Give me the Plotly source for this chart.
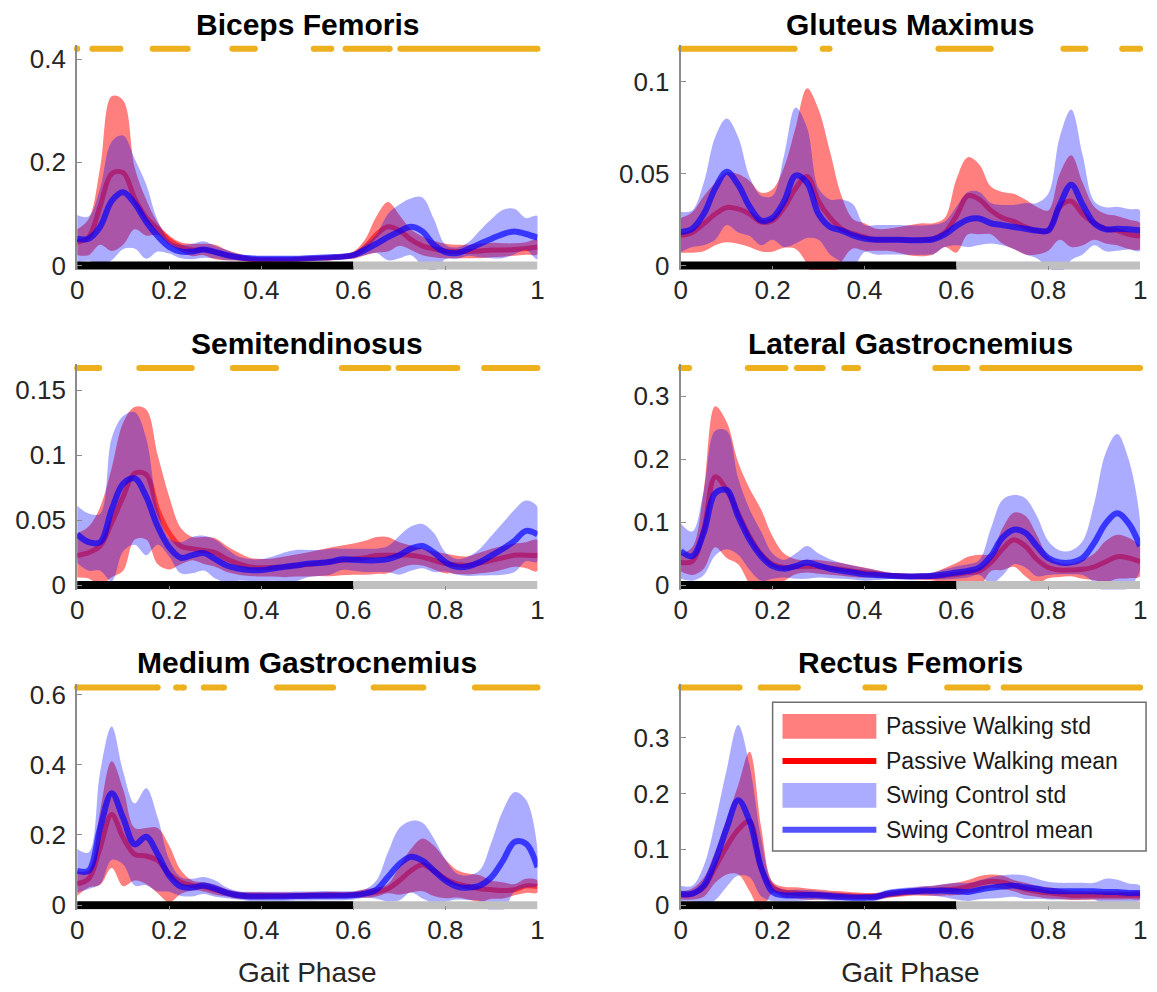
import plotly.graph_objects as go

# Gait-cycle sample points (fraction of stride, 0.025 step)
phase = [i / 40 for i in range(41)]

# ---------------- Biceps Femoris ----------------
bf_pw_mean = [0.045, 0.055, 0.115, 0.178, 0.18, 0.13, 0.093, 0.071, 0.049, 0.036,
              0.03, 0.031, 0.026, 0.02, 0.016, 0.012, 0.011, 0.011, 0.011, 0.012,
              0.013, 0.014, 0.015, 0.017, 0.02, 0.035, 0.06, 0.075, 0.068, 0.05,
              0.038, 0.032, 0.028, 0.027, 0.027, 0.028, 0.03, 0.03, 0.031, 0.033, 0.036]
bf_pw_std = [0.025, 0.035, 0.075, 0.15, 0.14, 0.06, 0.035, 0.012, 0.009, 0.009,
             0.012, 0.011, 0.014, 0.01, 0.007, 0.005, 0.004, 0.004, 0.004, 0.004,
             0.004, 0.004, 0.005, 0.005, 0.007, 0.015, 0.035, 0.048, 0.03, 0.02,
             0.018, 0.016, 0.014, 0.013, 0.013, 0.014, 0.014, 0.013, 0.012, 0.012, 0.014]
bf_sc_mean = [0.052, 0.052, 0.075, 0.125, 0.142, 0.12, 0.085, 0.057, 0.036, 0.027,
              0.027, 0.031, 0.026, 0.02, 0.016, 0.014, 0.013, 0.013, 0.013, 0.013,
              0.014, 0.015, 0.016, 0.017, 0.02, 0.03, 0.042, 0.055, 0.066, 0.075,
              0.066, 0.04, 0.026, 0.024, 0.032, 0.042, 0.052, 0.061, 0.066, 0.061, 0.054]
bf_sc_std = [0.046, 0.043, 0.075, 0.115, 0.11, 0.087, 0.072, 0.03, 0.013, 0.013,
             0.015, 0.016, 0.012, 0.01, 0.006, 0.005, 0.004, 0.004, 0.004, 0.004,
             0.004, 0.004, 0.004, 0.004, 0.005, 0.01, 0.018, 0.045, 0.052, 0.055,
             0.066, 0.05, 0.014, 0.011, 0.013, 0.026, 0.038, 0.047, 0.044, 0.031, 0.042]
bf_sig = [(0.0, 0.0), (0.033, 0.094), (0.164, 0.24), (0.337, 0.386),
          (0.514, 0.552), (0.583, 0.679), (0.702, 1.0)]
bf_level = 0.42
bf_yticks = [0, 0.2, 0.4]

# ---------------- Gluteus Maximus ----------------
gm_pw_mean = [0.0164, 0.018, 0.0227, 0.028, 0.0316, 0.0308, 0.028, 0.0236, 0.0245, 0.0316,
              0.042, 0.0485, 0.035, 0.026, 0.02, 0.0173, 0.0155, 0.014, 0.014, 0.014,
              0.0137, 0.014, 0.0145, 0.018, 0.027, 0.038, 0.036, 0.03, 0.026, 0.024,
              0.021, 0.019, 0.019, 0.032, 0.035, 0.028, 0.023, 0.02, 0.019, 0.017, 0.016]
gm_pw_std = [0.0095, 0.011, 0.015, 0.017, 0.019, 0.019, 0.018, 0.016, 0.017, 0.022,
             0.033, 0.048, 0.05, 0.036, 0.018, 0.008, 0.0075, 0.006, 0.006, 0.007,
             0.0083, 0.009, 0.0085, 0.008, 0.02, 0.021, 0.019, 0.013, 0.014, 0.015,
             0.015, 0.013, 0.011, 0.018, 0.025, 0.017, 0.009, 0.008, 0.008, 0.008, 0.007]
gm_sc_mean = [0.0182, 0.02, 0.028, 0.042, 0.051, 0.044, 0.032, 0.0245, 0.026, 0.035,
              0.049, 0.045, 0.028, 0.021, 0.019, 0.0164, 0.0146, 0.014, 0.014, 0.014,
              0.0138, 0.0138, 0.0143, 0.017, 0.0215, 0.025, 0.0256, 0.023, 0.022, 0.021,
              0.02, 0.019, 0.019, 0.033, 0.044, 0.033, 0.023, 0.0197, 0.02, 0.0197, 0.019]
gm_sc_std = [0.011, 0.01, 0.017, 0.028, 0.029, 0.026, 0.016, 0.0135, 0.012, 0.025,
             0.037, 0.03, 0.014, 0.015, 0.017, 0.017, 0.0074, 0.008, 0.008, 0.008,
             0.008, 0.008, 0.008, 0.007, 0.0105, 0.015, 0.0144, 0.011, 0.011, 0.012,
             0.014, 0.015, 0.02, 0.037, 0.041, 0.027, 0.012, 0.012, 0.012, 0.011, 0.011]
gm_sig = [(0.0, 0.248), (0.309, 0.324), (0.561, 0.675), (0.833, 0.881), (0.961, 1.0)]
gm_level = 0.118
gm_yticks = [0, 0.05, 0.1]

# ---------------- Semitendinosus ----------------
st_pw_mean = [0.0228, 0.025, 0.03, 0.048, 0.068, 0.086, 0.085, 0.058, 0.04, 0.03,
              0.028, 0.0266, 0.025, 0.02, 0.0165, 0.014, 0.0133, 0.0135, 0.014, 0.015,
              0.0158, 0.017, 0.0178, 0.019, 0.02, 0.021, 0.0228, 0.023, 0.023, 0.023,
              0.0215, 0.019, 0.0165, 0.0155, 0.0152, 0.017, 0.019, 0.021, 0.023, 0.023, 0.0228]
st_pw_std = [0.017, 0.02, 0.03, 0.042, 0.057, 0.051, 0.05, 0.042, 0.028, 0.014,
             0.009, 0.0104, 0.011, 0.01, 0.0085, 0.007, 0.0067, 0.007, 0.008, 0.0085,
             0.0092, 0.01, 0.011, 0.0115, 0.012, 0.013, 0.0142, 0.014, 0.01, 0.0075,
             0.0065, 0.007, 0.0075, 0.007, 0.007, 0.008, 0.009, 0.009, 0.009, 0.01, 0.012]
st_sc_mean = [0.039, 0.033, 0.033, 0.058, 0.078, 0.082, 0.068, 0.045, 0.029, 0.021,
              0.023, 0.0246, 0.02, 0.015, 0.0127, 0.0115, 0.0115, 0.0127, 0.014, 0.015,
              0.0165, 0.017, 0.018, 0.0198, 0.0195, 0.019, 0.019, 0.02, 0.023, 0.028,
              0.03, 0.025, 0.0177, 0.014, 0.0145, 0.0177, 0.0228, 0.028, 0.034, 0.0417, 0.039]
st_sc_std = [0.022, 0.022, 0.022, 0.055, 0.052, 0.051, 0.045, 0.014, 0.007, 0.012,
             0.014, 0.0134, 0.015, 0.013, 0.0093, 0.0085, 0.0085, 0.0093, 0.011, 0.012,
             0.0105, 0.01, 0.01, 0.0082, 0.0085, 0.009, 0.009, 0.01, 0.015, 0.017,
             0.017, 0.015, 0.0073, 0.006, 0.0075, 0.0103, 0.0152, 0.02, 0.024, 0.0233, 0.021]
st_sig = [(0.0, 0.048), (0.135, 0.249), (0.338, 0.432), (0.575, 0.676),
          (0.698, 0.826), (0.884, 1.0)]
st_level = 0.167
st_yticks = [0, 0.05, 0.1, 0.15]

# ---------------- Lateral Gastrocnemius ----------------
lg_pw_mean = [0.036, 0.038, 0.088, 0.172, 0.151, 0.114, 0.077, 0.049, 0.033, 0.028,
              0.029, 0.03, 0.029, 0.027, 0.025, 0.022, 0.02, 0.018, 0.0157, 0.0145,
              0.0136, 0.0136, 0.0136, 0.015, 0.017, 0.02, 0.0225, 0.036, 0.057, 0.072,
              0.062, 0.041, 0.028, 0.024, 0.024, 0.025, 0.029, 0.037, 0.045, 0.043, 0.037]
lg_pw_std = [0.014, 0.022, 0.062, 0.112, 0.108, 0.081, 0.076, 0.071, 0.044, 0.022,
             0.012, 0.01, 0.011, 0.0105, 0.01, 0.009, 0.008, 0.006, 0.0043, 0.0043,
             0.0044, 0.005, 0.0064, 0.012, 0.018, 0.025, 0.0255, 0.014, 0.033, 0.043,
             0.048, 0.039, 0.017, 0.011, 0.01, 0.015, 0.021, 0.033, 0.035, 0.032, 0.023]
lg_sc_mean = [0.054, 0.046, 0.083, 0.146, 0.151, 0.109, 0.072, 0.046, 0.03, 0.026,
              0.03, 0.036, 0.031, 0.026, 0.0225, 0.02, 0.017, 0.016, 0.0147, 0.014,
              0.0136, 0.014, 0.0147, 0.017, 0.02, 0.0225, 0.028, 0.046, 0.075, 0.088,
              0.083, 0.062, 0.043, 0.036, 0.036, 0.043, 0.067, 0.098, 0.114, 0.098, 0.062]
lg_sc_std = [0.044, 0.039, 0.067, 0.099, 0.094, 0.061, 0.048, 0.039, 0.02, 0.014,
             0.02, 0.026, 0.019, 0.015, 0.0125, 0.011, 0.01, 0.008, 0.0053, 0.0045,
             0.0044, 0.0045, 0.0053, 0.008, 0.01, 0.0105, 0.012, 0.044, 0.06, 0.055,
             0.055, 0.048, 0.027, 0.019, 0.019, 0.027, 0.063, 0.112, 0.126, 0.102, 0.038]
lg_sig = [(0.0, 0.018), (0.146, 0.228), (0.253, 0.309), (0.356, 0.386),
          (0.554, 0.624), (0.656, 1.0)]
lg_level = 0.345
lg_yticks = [0, 0.1, 0.2, 0.3]

# ---------------- Medium Gastrocnemius ----------------
mg_pw_mean = [0.061, 0.075, 0.164, 0.258, 0.192, 0.145, 0.14, 0.127, 0.089, 0.066,
              0.056, 0.052, 0.044, 0.035, 0.028, 0.027, 0.027, 0.027, 0.027, 0.027,
              0.028, 0.028, 0.029, 0.029, 0.03, 0.033, 0.0375, 0.047, 0.07, 0.098,
              0.115, 0.098, 0.075, 0.061, 0.053, 0.047, 0.044, 0.042, 0.044, 0.055, 0.053]
mg_pw_std = [0.035, 0.025, 0.106, 0.152, 0.138, 0.075, 0.08, 0.093, 0.081, 0.034,
             0.014, 0.013, 0.014, 0.01, 0.01, 0.01, 0.01, 0.009, 0.009, 0.009,
             0.009, 0.009, 0.009, 0.008, 0.008, 0.012, 0.0125, 0.013, 0.04, 0.062,
             0.075, 0.072, 0.055, 0.039, 0.037, 0.038, 0.026, 0.023, 0.016, 0.02, 0.017]
mg_sc_mean = [0.098, 0.098, 0.22, 0.319, 0.248, 0.173, 0.195, 0.145, 0.084, 0.053,
              0.05, 0.056, 0.047, 0.035, 0.028, 0.025, 0.025, 0.025, 0.025, 0.026,
              0.026, 0.027, 0.027, 0.027, 0.028, 0.033, 0.044, 0.08, 0.117, 0.138,
              0.127, 0.098, 0.07, 0.053, 0.05, 0.056, 0.08, 0.127, 0.18, 0.175, 0.108]
mg_sc_std = [0.062, 0.052, 0.16, 0.19, 0.132, 0.117, 0.138, 0.105, 0.046, 0.027,
             0.025, 0.024, 0.023, 0.015, 0.012, 0.013, 0.013, 0.013, 0.013, 0.013,
             0.013, 0.013, 0.013, 0.013, 0.012, 0.012, 0.026, 0.07, 0.103, 0.102,
             0.108, 0.092, 0.06, 0.037, 0.035, 0.044, 0.1, 0.143, 0.142, 0.125, 0.052]
mg_sig = [(0.0, 0.175), (0.215, 0.232), (0.275, 0.319), (0.434, 0.556),
          (0.644, 0.752), (0.864, 1.0)]
mg_level = 0.62
mg_yticks = [0, 0.2, 0.4, 0.6]

# ---------------- Rectus Femoris ----------------
rf_pw_mean = [0.0176, 0.02, 0.032, 0.068, 0.105, 0.135, 0.15, 0.065, 0.032, 0.0235,
              0.022, 0.02, 0.019, 0.018, 0.0176, 0.0165, 0.016, 0.016, 0.019, 0.021,
              0.0235, 0.025, 0.026, 0.0275, 0.029, 0.0335, 0.039, 0.043, 0.041, 0.035,
              0.029, 0.025, 0.022, 0.02, 0.0176, 0.0176, 0.0176, 0.0176, 0.0176, 0.0176, 0.0176]
rf_pw_std = [0.0074, 0.01, 0.017, 0.028, 0.05, 0.08, 0.125, 0.075, 0.01, 0.0095,
             0.01, 0.01, 0.009, 0.008, 0.0074, 0.0065, 0.006, 0.006, 0.006, 0.006,
             0.0065, 0.008, 0.009, 0.01, 0.011, 0.0115, 0.013, 0.012, 0.012, 0.01,
             0.011, 0.01, 0.01, 0.009, 0.0084, 0.008, 0.0074, 0.0074, 0.0074, 0.007, 0.0064]
rf_sc_mean = [0.0206, 0.0206, 0.035, 0.079, 0.138, 0.188, 0.15, 0.068, 0.0235, 0.0176,
              0.0176, 0.018, 0.0176, 0.016, 0.0147, 0.0135, 0.0135, 0.0147, 0.0206, 0.0235,
              0.025, 0.026, 0.026, 0.026, 0.025, 0.0235, 0.0276, 0.031, 0.0335, 0.035,
              0.032, 0.0294, 0.026, 0.025, 0.025, 0.025, 0.025, 0.0235, 0.0235, 0.022, 0.0218]
rf_sc_std = [0.014, 0.014, 0.035, 0.07, 0.105, 0.135, 0.1, 0.052, 0.016, 0.01,
             0.01, 0.009, 0.008, 0.0075, 0.007, 0.0068, 0.0065, 0.0068, 0.007, 0.007,
             0.007, 0.008, 0.009, 0.012, 0.015, 0.016, 0.017, 0.019, 0.02, 0.02,
             0.021, 0.018, 0.016, 0.015, 0.015, 0.015, 0.015, 0.024, 0.022, 0.017, 0.013]
rf_sig = [(0.0, 0.128), (0.174, 0.255), (0.402, 0.443), (0.58, 0.668), (0.703, 1.0)]
rf_level = 0.39
rf_yticks = [0, 0.1, 0.2, 0.3]

# Stance / swing split of the gait cycle
stance = [0.0, 0.6]
swing = [0.6, 1.0]
x_ticks = [0, 0.2, 0.4, 0.6, 0.8, 1]

legend_labels = ["Passive Walking std", "Passive Walking mean",
                 "Swing Control std", "Swing Control mean"]

panels = [
    ("Biceps Femoris", bf_pw_mean, bf_pw_std, bf_sc_mean, bf_sc_std, bf_sig, bf_level, bf_yticks),
    ("Gluteus Maximus", gm_pw_mean, gm_pw_std, gm_sc_mean, gm_sc_std, gm_sig, gm_level, gm_yticks),
    ("Semitendinosus", st_pw_mean, st_pw_std, st_sc_mean, st_sc_std, st_sig, st_level, st_yticks),
    ("Lateral Gastrocnemius", lg_pw_mean, lg_pw_std, lg_sc_mean, lg_sc_std, lg_sig, lg_level, lg_yticks),
    ("Medium Gastrocnemius", mg_pw_mean, mg_pw_std, mg_sc_mean, mg_sc_std, mg_sig, mg_level, mg_yticks),
    ("Rectus Femoris", rf_pw_mean, rf_pw_std, rf_sc_mean, rf_sc_std, rf_sig, rf_level, rf_yticks),
]

# ---------------- styling ----------------
W, H = 1157, 992
FONT = "Liberation Sans, Arial, Helvetica, sans-serif"
TICK_COLOR = "#262626"
AXIS_GRAY = "#8c8c8c"
RED_BAND = "rgba(255,0,0,0.5)"
RED_LINE = "rgba(255,0,0,0.6)"
RED_LEGEND = "rgb(255,0,0)"
BLUE_BAND = "rgba(0,0,255,0.33)"
BLUE_LINE = "rgba(0,0,255,0.68)"
ORANGE = "#EDB120"
SWING_GRAY = "#c0c0c0"

col_px = [(71, 537), (682, 1147)]          # left/right pixel edges of each column
row_px = [(45.5, 265.5), (369.5, 590), (694, 915)]  # (significance line, zero line) per row
PAD_TOP, PAD_BOT = 4.0, 4.5


def fmt(v):
    return f"{v:g}"


fig = go.Figure()
layout = {}
annotations = []

for k, (name, pwm, pws, scm, scs, sig, level, yticks) in enumerate(panels):
    r, c = divmod(k, 2)
    n = "" if k == 0 else str(k + 1)
    xa, ya = "x" + n, "y" + n

    def band(mean, std, color):
        up = [m + s for m, s in zip(mean, std)]
        lo = [m - s for m, s in zip(mean, std)]
        fig.add_trace(go.Scatter(
            x=phase + phase[::-1], y=up + lo[::-1], mode="lines", fill="toself",
            fillcolor=color, line=dict(width=0, shape="spline", smoothing=1.0),
            hoverinfo="skip", showlegend=False, xaxis=xa, yaxis=ya))

    def mean_line(mean, color, width):
        fig.add_trace(go.Scatter(
            x=phase, y=mean, mode="lines",
            line=dict(color=color, width=width, shape="spline", smoothing=1.0),
            hoverinfo="skip", showlegend=False, xaxis=xa, yaxis=ya))

    band(pwm, pws, RED_BAND)
    mean_line(pwm, RED_LINE, 5)
    band(scm, scs, BLUE_BAND)
    mean_line(scm, BLUE_LINE, 6)

    # stance (black) and swing (gray) bar on the zero line
    for seg, col in ((stance, "black"), (swing, SWING_GRAY)):
        fig.add_trace(go.Scatter(x=seg, y=[0, 0], mode="lines",
                                 line=dict(color=col, width=8),
                                 hoverinfo="skip", showlegend=False, xaxis=xa, yaxis=ya))

    # significance segments with rounded ends
    sx, sy = [], []
    for a, b in sig:
        sx += [a, b, None]
        sy += [level, level, None]
    fig.add_trace(go.Scatter(x=sx, y=sy, mode="lines", line=dict(color=ORANGE, width=6),
                             hoverinfo="skip", showlegend=False, xaxis=xa, yaxis=ya))
    ends = [v for seg in sig for v in seg]
    fig.add_trace(go.Scatter(x=ends, y=[level] * len(ends), mode="markers",
                             marker=dict(color=ORANGE, size=6, line=dict(width=0)),
                             cliponaxis=False, hoverinfo="skip", showlegend=False,
                             xaxis=xa, yaxis=ya))

    # axes geometry
    x0, x1 = col_px[c]
    sig_px, zero_px = row_px[r]
    u = level / (zero_px - sig_px)
    top, bot = sig_px - PAD_TOP, zero_px + PAD_BOT

    xaxis = dict(domain=[x0 / W, x1 / W], range=[0, 1], anchor=ya,
                 showgrid=False, zeroline=False, showline=False,
                 ticks="inside", ticklen=4, tickwidth=1, tickcolor=AXIS_GRAY,
                 tickvals=x_ticks, ticktext=[fmt(v) for v in x_ticks],
                 tickfont=dict(family=FONT, size=26, color=TICK_COLOR),
                 ticklabelstandoff=2)
    if r == 2:
        xaxis["title"] = dict(text="Gait Phase", standoff=18,
                              font=dict(family=FONT, size=28, color=TICK_COLOR))
    layout["xaxis" + n] = xaxis
    layout["yaxis" + n] = dict(domain=[1 - bot / H, 1 - top / H],
                               range=[-PAD_BOT * u, level + PAD_TOP * u], anchor=xa,
                               showgrid=False, zeroline=False, showline=True,
                               linecolor=AXIS_GRAY, linewidth=2,
                               ticks="inside", ticklen=5, tickwidth=1, tickcolor=AXIS_GRAY,
                               tickvals=yticks, ticktext=[fmt(v) for v in yticks],
                               tickfont=dict(family=FONT, size=26, color=TICK_COLOR),
                               ticklabelstandoff=4)

    annotations.append(dict(text="<b>" + name + "</b>", x=(x0 + x1) / 2 / W,
                            y=1 - (sig_px - 25) / H, xref="paper", yref="paper",
                            xanchor="center", yanchor="middle", showarrow=False,
                            font=dict(family=FONT, size=30, color="black")))

# ---------------- legend (drawn in the last panel) ----------------
shapes = []
lx0, lx1, ly0, ly1 = 775, 1153, 709, 860
shapes.append(dict(type="rect", xref="paper", yref="paper",
                   x0=lx0 / W, x1=lx1 / W, y0=1 - ly1 / H, y1=1 - ly0 / H,
                   fillcolor="white", line=dict(color="#6e6e6e", width=1.5), layer="above"))
row_centers = [733.5, 768.5, 803.5, 838.5]
styles = [("band", RED_BAND), ("line", RED_LEGEND), ("band", BLUE_BAND), ("line", BLUE_LINE)]
for label, yc, (kind, col) in zip(legend_labels, row_centers, styles):
    if kind == "band":
        shapes.append(dict(type="rect", xref="paper", yref="paper",
                           x0=785 / W, x1=880 / W, y0=1 - (yc + 12.5) / H, y1=1 - (yc - 12.5) / H,
                           fillcolor=col, line=dict(width=0), layer="above"))
    else:
        shapes.append(dict(type="line", xref="paper", yref="paper",
                           x0=785 / W, x1=880 / W, y0=1 - yc / H, y1=1 - yc / H,
                           line=dict(color=col, width=6), layer="above"))
    annotations.append(dict(text=label, x=888 / W, y=1 - yc / H, xref="paper", yref="paper",
                            xanchor="left", yanchor="middle", showarrow=False,
                            font=dict(family=FONT, size=23, color="#1a1a1a")))

fig.update_layout(**layout)
fig.update_layout(width=W, height=H, margin=dict(l=0, r=0, t=0, b=0),
                  paper_bgcolor="white", plot_bgcolor="white",
                  showlegend=False, annotations=annotations, shapes=shapes)

fig.write_html("out.html")
